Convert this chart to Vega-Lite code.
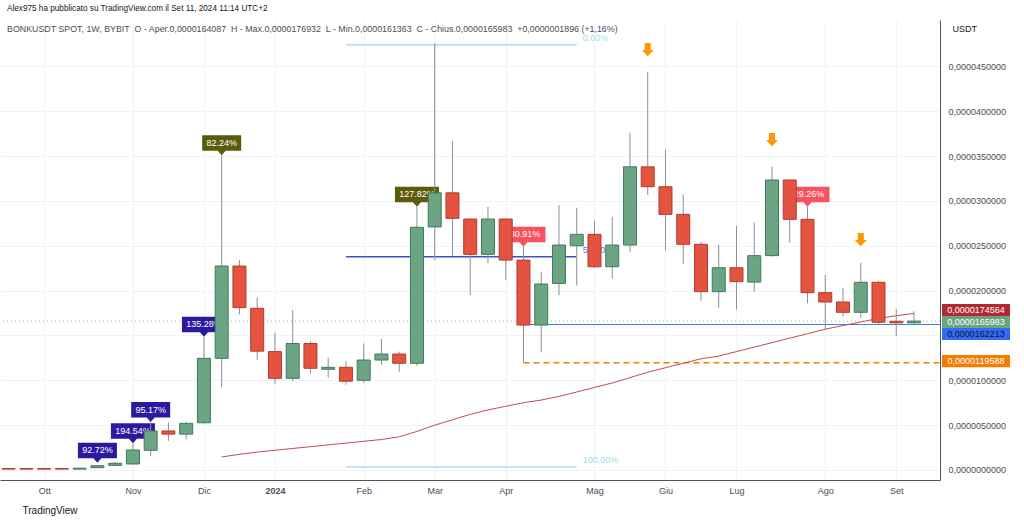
{
  "$schema": "https://vega.github.io/schema/vega-lite/v6.json",
  "width": 940,
  "height": 460,
  "autosize": {"type": "none"},
  "padding": {"left": 0, "top": 20, "right": 84, "bottom": 42},
  "background": "#ffffff",
  "config": {"view": {"stroke": null}, "font": "Liberation Sans"},
  "title": {
    "text": "Alex975 ha pubblicato su TradingView.com il Set 11, 2024 11:14 UTC+2",
    "subtitle": "\u00a0\u00a0\u00a0BONKUSDT SPOT, 1W, BYBIT\u00a0\u00a0O - Aper.0,0000164087\u00a0\u00a0H - Max.0,0000176932\u00a0\u00a0L - Min.0,0000161363\u00a0\u00a0C - Chius.0,0000165983\u00a0\u00a0+0,0000001896 (+1,16%)",
    "anchor": "start",
    "frame": "group",
    "orient": "top",
    "offset": 0,
    "dx": 7,
    "dy": 14.5,
    "font": "Liberation Sans",
    "fontSize": 8.2,
    "fontWeight": "normal",
    "color": "#131722",
    "subtitleFont": "Liberation Sans",
    "subtitleFontSize": 8.85,
    "subtitleColor": "#4a4d57",
    "subtitlePadding": 11
  },
  "datasets": {
    "candles": [
      {"d": "2023-09-18T00:00:00", "o": 1.6e-7, "h": 1.9e-7, "l": 8e-8, "c": 1.0e-7, "ma": null},
      {"d": "2023-09-25T00:00:00", "o": 1.6e-7, "h": 1.9e-7, "l": 8e-8, "c": 1.0e-7, "ma": null},
      {"d": "2023-10-02T00:00:00", "o": 1.6e-7, "h": 1.9e-7, "l": 8e-8, "c": 1.0e-7, "ma": null},
      {"d": "2023-10-09T00:00:00", "o": 1.7e-7, "h": 2.0e-7, "l": 9e-8, "c": 1.0e-7, "ma": null},
      {"d": "2023-10-16T00:00:00", "o": 1.0e-7, "h": 2.3e-7, "l": 9e-8, "c": 2.0e-7, "ma": null},
      {"d": "2023-10-23T00:00:00", "o": 2.6e-7, "h": 5.0e-7, "l": 2.4e-7, "c": 4.8e-7, "ma": null},
      {"d": "2023-10-30T00:00:00", "o": 5.2e-7, "h": 8.9e-7, "l": 4.9e-7, "c": 7.5e-7, "ma": null},
      {"d": "2023-11-06T00:00:00", "o": 6.7e-7, "h": 2.98e-6, "l": 6.2e-7, "c": 2.23e-6, "ma": null},
      {"d": "2023-11-13T00:00:00", "o": 2.20e-6, "h": 5.35e-6, "l": 1.56e-6, "c": 4.35e-6, "ma": null},
      {"d": "2023-11-20T00:00:00", "o": 4.35e-6, "h": 5.30e-6, "l": 3.25e-6, "c": 4.00e-6, "ma": null},
      {"d": "2023-11-27T00:00:00", "o": 4.00e-6, "h": 5.38e-6, "l": 3.40e-6, "c": 5.20e-6, "ma": null},
      {"d": "2023-12-04T00:00:00", "o": 5.27e-6, "h": 1.486e-5, "l": 5.20e-6, "c": 1.245e-5, "ma": null},
      {"d": "2023-12-11T00:00:00", "o": 1.245e-5, "h": 3.51e-5, "l": 9.22e-6, "c": 2.274e-5, "ma": 1.45e-6},
      {"d": "2023-12-18T00:00:00", "o": 2.274e-5, "h": 2.34e-5, "l": 1.736e-5, "c": 1.81e-5, "ma": 1.75e-6},
      {"d": "2023-12-25T00:00:00", "o": 1.803e-5, "h": 1.925e-5, "l": 1.23e-5, "c": 1.325e-5, "ma": 2.0e-6},
      {"d": "2024-01-01T00:00:00", "o": 1.32e-5, "h": 1.53e-5, "l": 9.6e-6, "c": 1.022e-5, "ma": 2.2e-6},
      {"d": "2024-01-08T00:00:00", "o": 1.022e-5, "h": 1.784e-5, "l": 9.9e-6, "c": 1.41e-5, "ma": 2.4e-6},
      {"d": "2024-01-15T00:00:00", "o": 1.41e-5, "h": 1.438e-5, "l": 1.078e-5, "c": 1.134e-5, "ma": 2.6e-6},
      {"d": "2024-01-22T00:00:00", "o": 1.123e-5, "h": 1.252e-5, "l": 1.03e-5, "c": 1.145e-5, "ma": 2.8e-6},
      {"d": "2024-01-29T00:00:00", "o": 1.145e-5, "h": 1.215e-5, "l": 9.5e-6, "c": 9.9e-6, "ma": 3.0e-6},
      {"d": "2024-02-05T00:00:00", "o": 1.0e-5, "h": 1.41e-5, "l": 9.7e-6, "c": 1.226e-5, "ma": 3.2e-6},
      {"d": "2024-02-12T00:00:00", "o": 1.226e-5, "h": 1.46e-5, "l": 1.17e-5, "c": 1.293e-5, "ma": 3.4e-6},
      {"d": "2024-02-19T00:00:00", "o": 1.293e-5, "h": 1.32e-5, "l": 1.096e-5, "c": 1.19e-5, "ma": 3.7e-6},
      {"d": "2024-02-26T00:00:00", "o": 1.19e-5, "h": 2.935e-5, "l": 1.16e-5, "c": 2.706e-5, "ma": 4.3e-6},
      {"d": "2024-03-04T00:00:00", "o": 2.71e-5, "h": 4.757e-5, "l": 2.34e-5, "c": 3.09e-5, "ma": 5.0e-6},
      {"d": "2024-03-11T00:00:00", "o": 3.09e-5, "h": 3.668e-5, "l": 2.386e-5, "c": 2.806e-5, "ma": 5.6e-6},
      {"d": "2024-03-18T00:00:00", "o": 2.798e-5, "h": 2.805e-5, "l": 1.95e-5, "c": 2.404e-5, "ma": 6.2e-6},
      {"d": "2024-03-25T00:00:00", "o": 2.404e-5, "h": 2.935e-5, "l": 2.304e-5, "c": 2.798e-5, "ma": 6.7e-6},
      {"d": "2024-04-01T00:00:00", "o": 2.798e-5, "h": 2.805e-5, "l": 2.118e-5, "c": 2.34e-5, "ma": 7.1e-6},
      {"d": "2024-04-08T00:00:00", "o": 2.34e-5, "h": 2.49e-5, "l": 1.19588e-5, "c": 1.616e-5, "ma": 7.5e-6},
      {"d": "2024-04-15T00:00:00", "o": 1.616e-5, "h": 2.207e-5, "l": 1.31e-5, "c": 2.074e-5, "ma": 7.8e-6},
      {"d": "2024-04-22T00:00:00", "o": 2.08e-5, "h": 2.954e-5, "l": 1.95e-5, "c": 2.508e-5, "ma": 8.2e-6},
      {"d": "2024-04-29T00:00:00", "o": 2.50e-5, "h": 2.924e-5, "l": 2.055e-5, "c": 2.627e-5, "ma": 8.7e-6},
      {"d": "2024-05-06T00:00:00", "o": 2.627e-5, "h": 2.78e-5, "l": 2.255e-5, "c": 2.266e-5, "ma": 9.2e-6},
      {"d": "2024-05-13T00:00:00", "o": 2.266e-5, "h": 2.824e-5, "l": 2.137e-5, "c": 2.508e-5, "ma": 9.7e-6},
      {"d": "2024-05-20T00:00:00", "o": 2.508e-5, "h": 3.76e-5, "l": 2.434e-5, "c": 3.38e-5, "ma": 1.03e-5},
      {"d": "2024-05-27T00:00:00", "o": 3.38e-5, "h": 4.44e-5, "l": 3.066e-5, "c": 3.158e-5, "ma": 1.09e-5},
      {"d": "2024-06-03T00:00:00", "o": 3.158e-5, "h": 3.575e-5, "l": 2.445e-5, "c": 2.85e-5, "ma": 1.14e-5},
      {"d": "2024-06-10T00:00:00", "o": 2.85e-5, "h": 3.073e-5, "l": 2.297e-5, "c": 2.516e-5, "ma": 1.19e-5},
      {"d": "2024-06-17T00:00:00", "o": 2.516e-5, "h": 2.545e-5, "l": 1.887e-5, "c": 1.988e-5, "ma": 1.24e-5},
      {"d": "2024-06-24T00:00:00", "o": 1.988e-5, "h": 2.508e-5, "l": 1.803e-5, "c": 2.255e-5, "ma": 1.27e-5},
      {"d": "2024-07-01T00:00:00", "o": 2.255e-5, "h": 2.72e-5, "l": 1.79e-5, "c": 2.10e-5, "ma": 1.32e-5},
      {"d": "2024-07-08T00:00:00", "o": 2.095e-5, "h": 2.76e-5, "l": 1.988e-5, "c": 2.39e-5, "ma": 1.37e-5},
      {"d": "2024-07-15T00:00:00", "o": 2.39e-5, "h": 3.38e-5, "l": 2.38e-5, "c": 3.233e-5, "ma": 1.42e-5},
      {"d": "2024-07-22T00:00:00", "o": 3.233e-5, "h": 3.24e-5, "l": 2.534e-5, "c": 2.795e-5, "ma": 1.47e-5},
      {"d": "2024-07-29T00:00:00", "o": 2.795e-5, "h": 2.935e-5, "l": 1.858e-5, "c": 1.977e-5, "ma": 1.52e-5},
      {"d": "2024-08-05T00:00:00", "o": 1.977e-5, "h": 2.174e-5, "l": 1.569e-5, "c": 1.873e-5, "ma": 1.57e-5},
      {"d": "2024-08-12T00:00:00", "o": 1.873e-5, "h": 2.032e-5, "l": 1.71e-5, "c": 1.758e-5, "ma": 1.61e-5},
      {"d": "2024-08-19T00:00:00", "o": 1.758e-5, "h": 2.31e-5, "l": 1.695e-5, "c": 2.093e-5, "ma": 1.65e-5},
      {"d": "2024-08-26T00:00:00", "o": 2.093e-5, "h": 2.11e-5, "l": 1.628e-5, "c": 1.647e-5, "ma": 1.69e-5},
      {"d": "2024-09-02T00:00:00", "o": 1.658e-5, "h": 1.795e-5, "l": 1.494e-5, "c": 1.64087e-5, "ma": 1.72e-5},
      {"d": "2024-09-09T00:00:00", "o": 1.64087e-5, "h": 1.76932e-5, "l": 1.61363e-5, "c": 1.65983e-5, "ma": 1.74564e-5}
    ],
    "callouts": [
      {"d": "2023-10-23T00:00:00", "v": 8.1e-7, "label": "92.72%", "kind": "bull"},
      {"d": "2023-11-06T00:00:00", "v": 2.98e-6, "label": "194.54%", "kind": "bull"},
      {"d": "2023-11-13T00:00:00", "v": 5.35e-6, "label": "95.17%", "kind": "bull"},
      {"d": "2023-12-04T00:00:00", "v": 1.486e-5, "label": "135.28%", "kind": "bull"},
      {"d": "2023-12-11T00:00:00", "v": 3.51e-5, "label": "82.24%", "kind": "peak"},
      {"d": "2024-02-26T00:00:00", "v": 2.935e-5, "label": "127.82%", "kind": "peak"},
      {"d": "2024-04-08T00:00:00", "v": 2.49e-5, "label": "-30.91%", "kind": "drop"},
      {"d": "2024-07-29T00:00:00", "v": 2.935e-5, "label": "-29.26%", "kind": "drop"}
    ],
    "arrows": [
      {"d": "2024-05-27T00:00:00", "v": 4.682e-5},
      {"d": "2024-07-15T00:00:00", "v": 3.679e-5},
      {"d": "2024-08-19T00:00:00", "v": 2.564e-5}
    ],
    "fib": [
      {"d": "2024-01-29T00:00:00", "d2": "2024-04-29T00:00:00", "v": 4.74e-5, "lvl": "0", "label": "0.00%"},
      {"d": "2024-01-29T00:00:00", "d2": "2024-04-29T00:00:00", "v": 2.378e-5, "lvl": "0.5", "label": "50.00%"},
      {"d": "2024-01-29T00:00:00", "d2": "2024-04-29T00:00:00", "v": 3.3e-7, "lvl": "1", "label": "100.00%"}
    ],
    "levels": [
      {"d": "2024-04-08T00:00:00", "d2": "2024-09-19T06:00:00", "v": 1.62213e-5, "kind": "support"},
      {"d": "2024-04-08T00:00:00", "d2": "2024-09-19T06:00:00", "v": 1.19588e-5, "kind": "low"}
    ],
    "price": [{"v": 1.65983e-5}],
    "badges": [
      {"name": "ma", "v": 1.74564e-5, "label": "0,0000174564"},
      {"name": "close", "v": 1.65983e-5, "label": "0,0000165983"},
      {"name": "support", "v": 1.62213e-5, "label": "0,0000162213"},
      {"name": "low", "v": 1.19588e-5, "label": "0,0000119588"}
    ]
  },
  "layer": [
    {
      "data": {"name": "fib"},
      "mark": {"type": "rule", "strokeWidth": 1.5},
      "encoding": {
        "x": {
          "field": "d", "type": "temporal",
          "scale": {"domain": [{"year": 2023, "month": 9, "date": 14, "hours": 14}, {"year": 2024, "month": 9, "date": 19, "hours": 6}], "nice": false, "padding": 0},
          "axis": {
            "orient": "bottom",
            "values": [
              {"year": 2023, "month": 10, "date": 2}, {"year": 2023, "month": 11, "date": 6}, {"year": 2023, "month": 12, "date": 4},
              {"year": 2024, "month": 1, "date": 1}, {"year": 2024, "month": 2, "date": 5}, {"year": 2024, "month": 3, "date": 4},
              {"year": 2024, "month": 4, "date": 1}, {"year": 2024, "month": 5, "date": 6}, {"year": 2024, "month": 6, "date": 3},
              {"year": 2024, "month": 7, "date": 1}, {"year": 2024, "month": 8, "date": 5}, {"year": 2024, "month": 9, "date": 2}
            ],
            "labelExpr": "month(datum.value) == 0 ? timeFormat(datum.value, '%Y') : ['Gen','Feb','Mar','Apr','Mag','Giu','Lug','Ago','Set','Ott','Nov','Dic'][month(datum.value)]",
            "labelFontWeight": {"condition": {"test": "month(datum.value) == 0", "value": "bold"}, "value": "normal"},
            "labelFontSize": 9,
            "labelColor": "#4a4d57",
            "labelPadding": 6,
            "labelFlush": false,
            "labelOverlap": false,
            "ticks": false,
            "domain": true,
            "domainColor": "#50535e",
            "grid": true,
            "gridColor": "#eff2f7",
            "title": "TradingView",
            "titleX": 22,
            "titleY": 30,
            "titleAlign": "left",
            "titleBaseline": "middle",
            "titleFontSize": 10,
            "titleFontWeight": "normal",
            "titleColor": "#131722"
          }
        },
        "x2": {"field": "d2"},
        "y": {
          "field": "v", "type": "quantitative",
          "scale": {"domain": [-1.115e-6, 5.017e-5], "nice": false, "zero": false, "padding": 0},
          "axis": {
            "orient": "right",
            "values": [0, 5e-6, 1e-5, 1.5e-5, 2e-5, 2.5e-5, 3e-5, 3.5e-5, 4e-5, 4.5e-5],
            "labelExpr": "abs(datum.value - 1.5e-5) < 1e-9 ? '' : replace(format(datum.value, '.10f'), '.', ',')",
            "labelFontSize": 9,
            "labelColor": "#4a4d57",
            "labelPadding": 8,
            "labelAlign": "left",
            "labelBaseline": "middle",
            "labelFlush": false,
            "labelOverlap": false,
            "ticks": false,
            "domain": true,
            "domainColor": "#50535e",
            "grid": true,
            "gridColor": "#eff2f7",
            "title": "USDT",
            "titleAngle": 0,
            "titleX": 12,
            "titleY": 8,
            "titleAlign": "left",
            "titleBaseline": "middle",
            "titleFontSize": 9,
            "titleFontWeight": "normal",
            "titleColor": "#131722"
          }
        },
        "color": {"condition": {"test": "datum.lvl == '0.5'", "value": "#3a55c8"}, "value": "#a6e3ea"}
      }
    },
    {
      "data": {"name": "price"},
      "mark": {"type": "rule", "strokeDash": [1, 3], "color": "#8fbfa3", "strokeWidth": 1},
      "encoding": {
        "y": {"field": "v", "type": "quantitative"}
      }
    },
    {
      "data": {"name": "levels"},
      "transform": [{"filter": "datum.kind == 'support'"}],
      "mark": {"type": "rule", "color": "#3d7ef5", "strokeWidth": 1},
      "encoding": {
        "x": {"field": "d", "type": "temporal"},
        "x2": {"field": "d2"},
        "y": {"field": "v", "type": "quantitative"}
      }
    },
    {
      "data": {"name": "levels"},
      "transform": [{"filter": "datum.kind == 'low'"}],
      "mark": {"type": "rule", "color": "#f57c00", "strokeWidth": 1.5, "strokeDash": [6, 4]},
      "encoding": {
        "x": {"field": "d", "type": "temporal"},
        "x2": {"field": "d2"},
        "y": {"field": "v", "type": "quantitative"}
      }
    },
    {
      "data": {"name": "candles"},
      "transform": [{"filter": "isValid(datum.ma)"}],
      "mark": {"type": "line", "color": "#c8494c", "strokeWidth": 1},
      "encoding": {
        "x": {"field": "d", "type": "temporal"},
        "y": {"field": "ma", "type": "quantitative"}
      }
    },
    {
      "data": {"name": "callouts"},
      "transform": [{"filter": "length(datum.label) <= 6"}],
      "mark": {"type": "point", "shape": "M0,0 L-0.4,-0.45 L-1.95,-0.45 L-1.95,-2 L1.95,-2 L1.95,-0.45 L0.4,-0.45 Z", "size": 400, "filled": true, "opacity": 1, "strokeWidth": 0},
      "encoding": {
        "x": {"field": "d", "type": "temporal"},
        "y": {"field": "v", "type": "quantitative"},
        "fill": {"condition": [{"test": "datum.kind == 'bull'", "value": "#2c1a9e"}, {"test": "datum.kind == 'peak'", "value": "#5c5b0b"}], "value": "#f7525f"}
      }
    },
    {
      "data": {"name": "callouts"},
      "transform": [{"filter": "length(datum.label) > 6"}],
      "mark": {"type": "point", "shape": "M0,0 L-0.4,-0.45 L-2.2,-0.45 L-2.2,-2 L2.2,-2 L2.2,-0.45 L0.4,-0.45 Z", "size": 400, "filled": true, "opacity": 1, "strokeWidth": 0},
      "encoding": {
        "x": {"field": "d", "type": "temporal"},
        "y": {"field": "v", "type": "quantitative"},
        "fill": {"condition": [{"test": "datum.kind == 'bull'", "value": "#2c1a9e"}, {"test": "datum.kind == 'peak'", "value": "#5c5b0b"}], "value": "#f7525f"}
      }
    },
    {
      "data": {"name": "callouts"},
      "mark": {"type": "text", "color": "#ffffff", "fontSize": 9, "dy": -12.3, "baseline": "middle", "align": "center"},
      "encoding": {
        "x": {"field": "d", "type": "temporal"},
        "y": {"field": "v", "type": "quantitative"},
        "text": {"field": "label"}
      }
    },
    {
      "data": {"name": "fib"},
      "mark": {"type": "text", "fontSize": 9, "dx": 6, "dy": -7, "align": "left", "baseline": "middle"},
      "encoding": {
        "x": {"field": "d2", "type": "temporal"},
        "y": {"field": "v", "type": "quantitative"},
        "text": {"field": "label"},
        "color": {"condition": {"test": "datum.lvl == '0.5'", "value": "#5677e6"}, "value": "#9fdde5"}
      }
    },
    {
      "data": {"name": "candles"},
      "mark": {"type": "rule", "color": "#8c8f99", "strokeWidth": 1},
      "encoding": {
        "x": {"field": "d", "type": "temporal"},
        "y": {"field": "l", "type": "quantitative"},
        "y2": {"field": "h"}
      }
    },
    {
      "data": {"name": "candles"},
      "mark": {"type": "bar", "width": 13, "strokeWidth": 1},
      "encoding": {
        "x": {"field": "d", "type": "temporal"},
        "y": {"field": "o", "type": "quantitative"},
        "y2": {"field": "c"},
        "fill": {"condition": {"test": "datum.c >= datum.o", "value": "#6ba583"}, "value": "#e35340"},
        "stroke": {"condition": {"test": "datum.c >= datum.o", "value": "#427a5a"}, "value": "#b43b2c"}
      }
    },
    {
      "data": {"name": "arrows"},
      "mark": {"type": "point", "shape": "M-0.43,-1 L0.43,-1 L0.43,0 L0.85,0 L0,0.9 L-0.85,0 L-0.43,0 Z", "size": 196, "filled": true, "opacity": 1, "color": "#ff9800", "strokeWidth": 0},
      "encoding": {
        "x": {"field": "d", "type": "temporal"},
        "y": {"field": "v", "type": "quantitative"}
      }
    },
    {
      "data": {"name": "badges"},
      "transform": [{"filter": "datum.name == 'ma'"}],
      "encoding": {
        "x": {"datum": {"year": 2024, "month": 9, "date": 19, "hours": 6}, "type": "temporal"},
        "y": {"field": "v", "type": "quantitative"}
      },
      "layer": [
        {"mark": {"type": "point", "shape": "M-1,-0.18 L1,-0.18 L1,0.18 L-1,0.18 Z", "size": 4624, "filled": true, "opacity": 1, "color": "#b22833", "strokeWidth": 0, "xOffset": 36, "yOffset": -3.4}},
        {"mark": {"type": "text", "color": "#ffffff", "fontSize": 9, "align": "center", "baseline": "middle", "xOffset": 36, "yOffset": -3.4}, "encoding": {"text": {"field": "label"}}}
      ]
    },
    {
      "data": {"name": "badges"},
      "transform": [{"filter": "datum.name == 'close'"}],
      "encoding": {
        "x": {"datum": {"year": 2024, "month": 9, "date": 19, "hours": 6}, "type": "temporal"},
        "y": {"field": "v", "type": "quantitative"}
      },
      "layer": [
        {"mark": {"type": "point", "shape": "M-1,-0.18 L1,-0.18 L1,0.18 L-1,0.18 Z", "size": 4624, "filled": true, "opacity": 1, "color": "#6aa582", "strokeWidth": 0, "xOffset": 36, "yOffset": 0.9}},
        {"mark": {"type": "text", "color": "#ffffff", "fontSize": 9, "align": "center", "baseline": "middle", "xOffset": 36, "yOffset": 0.9}, "encoding": {"text": {"field": "label"}}}
      ]
    },
    {
      "data": {"name": "badges"},
      "transform": [{"filter": "datum.name == 'support'"}],
      "encoding": {
        "x": {"datum": {"year": 2024, "month": 9, "date": 19, "hours": 6}, "type": "temporal"},
        "y": {"field": "v", "type": "quantitative"}
      },
      "layer": [
        {"mark": {"type": "point", "shape": "M-1,-0.18 L1,-0.18 L1,0.18 L-1,0.18 Z", "size": 4624, "filled": true, "opacity": 1, "color": "#2f6bf5", "strokeWidth": 0, "xOffset": 36, "yOffset": 9.5}},
        {"mark": {"type": "text", "color": "#131722", "fontSize": 9, "align": "center", "baseline": "middle", "xOffset": 36, "yOffset": 9.5}, "encoding": {"text": {"field": "label"}}}
      ]
    },
    {
      "data": {"name": "badges"},
      "transform": [{"filter": "datum.name == 'low'"}],
      "encoding": {
        "x": {"datum": {"year": 2024, "month": 9, "date": 19, "hours": 6}, "type": "temporal"},
        "y": {"field": "v", "type": "quantitative"}
      },
      "layer": [
        {"mark": {"type": "point", "shape": "M-1,-0.18 L1,-0.18 L1,0.18 L-1,0.18 Z", "size": 4624, "filled": true, "opacity": 1, "color": "#f57c00", "strokeWidth": 0, "xOffset": 36, "yOffset": -1.7}},
        {"mark": {"type": "text", "color": "#ffffff", "fontSize": 9, "align": "center", "baseline": "middle", "xOffset": 36, "yOffset": -1.7}, "encoding": {"text": {"field": "label"}}}
      ]
    }
  ]
}
